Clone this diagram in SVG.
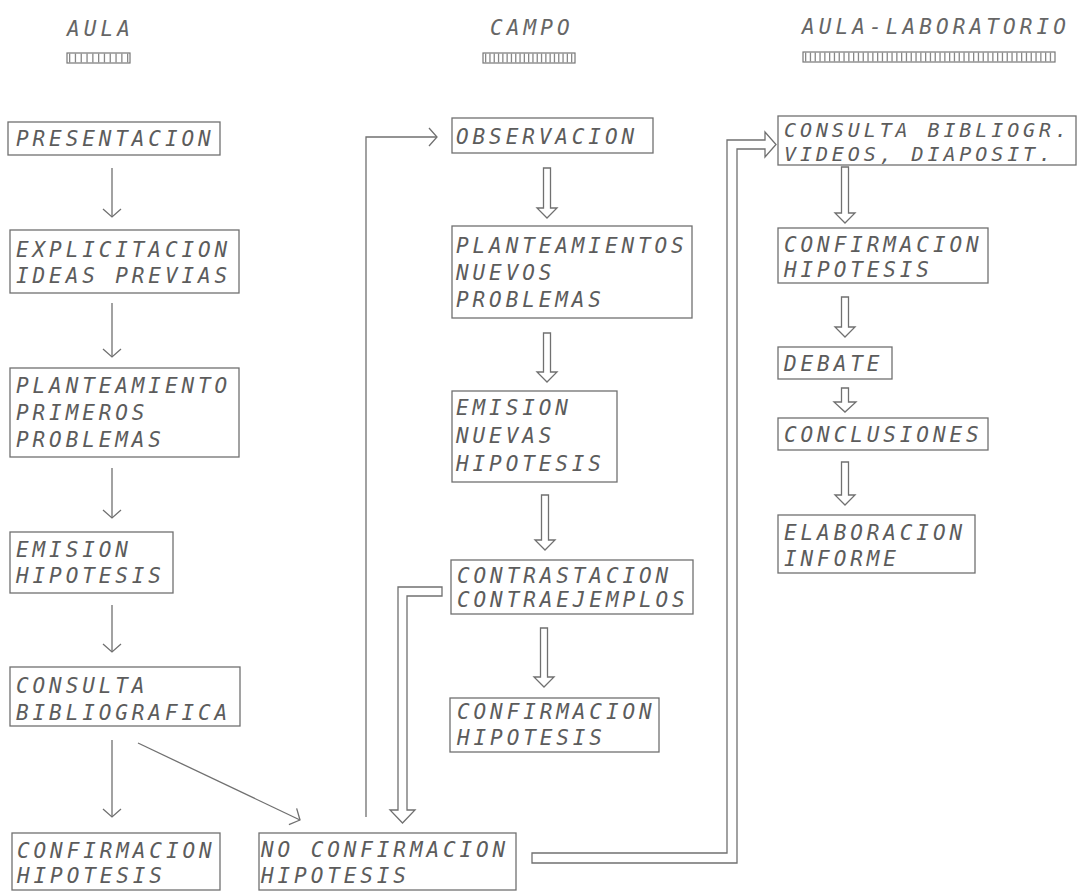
<svg xmlns="http://www.w3.org/2000/svg" width="1079" height="893" viewBox="0 0 1079 893">
<style>
  .box { fill: none; stroke: #707070; stroke-width: 1.3; }
  .t { font-family: "DejaVu Sans Mono", "Liberation Mono", monospace; font-style: italic; font-size: 21px; letter-spacing: 3.9px; fill: #5c5c5c; }
  .h { font-family: "DejaVu Sans Mono", "Liberation Mono", monospace; font-style: italic; font-size: 21px; letter-spacing: 4.1px; fill: #666; }
  .ln { fill: none; stroke: #707070; stroke-width: 1.3; }
  .ha { fill: none; stroke: #707070; stroke-width: 1.3; stroke-linejoin: miter; }
  .bar { fill: none; stroke: #777; stroke-width: 1.2; }
  .tick { stroke: #888; stroke-width: 9; stroke-dasharray: 1.3 4.5; }
</style>
<defs>
  <marker id="ah" viewBox="-11 -11 13 22" markerWidth="13" markerHeight="22" refX="0" refY="0" orient="auto" markerUnits="userSpaceOnUse">
    <path d="M-8,-9 L0,0 L-8,9" fill="none" stroke="#707070" stroke-width="1.3"/>
  </marker>
</defs>
<rect width="1079" height="893" fill="#ffffff"/>

<g id="headers">
  <text class="h" x="67" y="36">AULA</text>
  <rect class="bar" x="67" y="53" width="63" height="10"/>
  <line class="tick" x1="69" y1="58" x2="129" y2="58"/>
  <text class="h" x="490" y="35">CAMPO</text>
  <rect class="bar" x="483" y="53" width="92" height="10"/>
  <line class="tick" x1="485" y1="58" x2="574" y2="58" style="stroke-dasharray:1.3 3"/>
  <text class="h" x="802" y="34">AULA-LABORATORIO</text>
  <rect class="bar" x="803" y="52" width="252" height="10"/>
  <line class="tick" x1="805" y1="57" x2="1054" y2="57" style="stroke-dasharray:1.3 3.5"/>
</g>

<g id="n-presentacion"><rect class="box" x="8" y="122" width="212" height="33"/><text class="t" x="16" y="146">PRESENTACION</text></g>
<g id="n-explicitacion"><rect class="box" x="10" y="230" width="229" height="63"/><text class="t" x="16" y="257">EXPLICITACION</text><text class="t" x="16" y="283">IDEAS PREVIAS</text></g>
<g id="n-planteamiento"><rect class="box" x="10" y="368" width="229" height="89"/><text class="t" x="16" y="393">PLANTEAMIENTO</text><text class="t" x="16" y="420">PRIMEROS</text><text class="t" x="16" y="447">PROBLEMAS</text></g>
<g id="n-emision"><rect class="box" x="10" y="532" width="163" height="61"/><text class="t" x="16" y="557">EMISION</text><text class="t" x="16" y="583">HIPOTESIS</text></g>
<g id="n-consulta"><rect class="box" x="10" y="667" width="230" height="59"/><text class="t" x="16" y="693">CONSULTA</text><text class="t" x="16" y="720">BIBLIOGRAFICA</text></g>
<g id="n-confirmacion-aula"><rect class="box" x="12" y="833" width="208" height="57"/><text class="t" x="17" y="858">CONFIRMACION</text><text class="t" x="17" y="883">HIPOTESIS</text></g>
<g id="n-no-confirmacion"><rect class="box" x="259" y="833" width="257" height="57"/><text class="t" x="261" y="857">NO CONFIRMACION</text><text class="t" x="261" y="883">HIPOTESIS</text></g>

<g id="n-observacion"><rect class="box" x="452" y="118" width="201" height="35"/><text class="t" x="456" y="144">OBSERVACION</text></g>
<g id="n-planteamientos"><rect class="box" x="452" y="226" width="240" height="92"/><text class="t" x="456" y="253">PLANTEAMIENTOS</text><text class="t" x="456" y="280">NUEVOS</text><text class="t" x="456" y="307">PROBLEMAS</text></g>
<g id="n-emision-nuevas"><rect class="box" x="452" y="391" width="165" height="91"/><text class="t" x="456" y="415">EMISION</text><text class="t" x="456" y="443">NUEVAS</text><text class="t" x="456" y="471">HIPOTESIS</text></g>
<g id="n-contrastacion"><rect class="box" x="451" y="560" width="242" height="54"/><text class="t" x="457" y="583">CONTRASTACION</text><text class="t" x="457" y="607">CONTRAEJEMPLOS</text></g>
<g id="n-confirmacion-campo"><rect class="box" x="450" y="698" width="209" height="54"/><text class="t" x="457" y="719">CONFIRMACION</text><text class="t" x="457" y="745">HIPOTESIS</text></g>

<g id="n-consulta-bibliogr"><rect class="box" x="778" y="116" width="298" height="49"/><text class="t" x="784" y="137" style="font-size:20px;letter-spacing:3.9px">CONSULTA BIBLIOGR.</text><text class="t" x="784" y="161" style="font-size:20px;letter-spacing:3.9px">VIDEOS, DIAPOSIT.</text></g>
<g id="n-confirmacion-lab"><rect class="box" x="778" y="228" width="210" height="55"/><text class="t" x="784" y="252">CONFIRMACION</text><text class="t" x="784" y="277">HIPOTESIS</text></g>
<g id="n-debate"><rect class="box" x="778" y="347" width="114" height="32"/><text class="t" x="784" y="371">DEBATE</text></g>
<g id="n-conclusiones"><rect class="box" x="778" y="418" width="210" height="32"/><text class="t" x="784" y="442">CONCLUSIONES</text></g>
<g id="n-elaboracion"><rect class="box" x="778" y="515" width="197" height="58"/><text class="t" x="784" y="540">ELABORACION</text><text class="t" x="784" y="566">INFORME</text></g>

<g id="connectors">
  <line class="ln" x1="112" y1="168" x2="112" y2="217" marker-end="url(#ah)"/>
  <line class="ln" x1="112" y1="303" x2="112" y2="357" marker-end="url(#ah)"/>
  <line class="ln" x1="112" y1="468" x2="112" y2="518" marker-end="url(#ah)"/>
  <line class="ln" x1="112" y1="605" x2="112" y2="652" marker-end="url(#ah)"/>
  <line class="ln" x1="112" y1="740" x2="112" y2="817" marker-end="url(#ah)"/>
  <line class="ln" x1="138" y1="743" x2="300" y2="820" marker-end="url(#ah)"/>
  <polyline class="ln" points="366,817 366,137 437,137" marker-end="url(#ah)"/>

  <path class="ha" d="M543.5,168 H550.5 V208 H557 L547,218 L537,208 H543.5 Z"/>
  <path class="ha" d="M543.5,333 H550.5 V372 H557 L547,382 L537,372 H543.5 Z"/>
  <path class="ha" d="M541.5,495 H548.5 V540 H555 L545,550 L535,540 H541.5 Z"/>
  <path class="ha" d="M540.5,628 H547.5 V677 H554 L544,687 L534,677 H540.5 Z"/>

  <path class="ha" d="M841.5,167 H848.5 V213 H855 L845,223 L835,213 H841.5 Z"/>
  <path class="ha" d="M841.5,297 H848.5 V327 H855 L845,337 L835,327 H841.5 Z"/>
  <path class="ha" d="M841.5,388 H848.5 V402 H856 L845,412 L834,402 H841.5 Z"/>
  <path class="ha" d="M841.5,462 H848.5 V495 H855 L845,505 L835,495 H841.5 Z"/>

  <path class="ha" d="M442,587 L398,587 L398,810 L390,810 L402.5,823 L415,810 L407,810 L407,596 L442,596 Z"/>
  <path class="ha" d="M532,853 L727,853 L727,140 L765,140 L765,132 L776,144.5 L765,157 L765,149 L737,149 L737,863 L532,863 Z"/>
</g>
</svg>
